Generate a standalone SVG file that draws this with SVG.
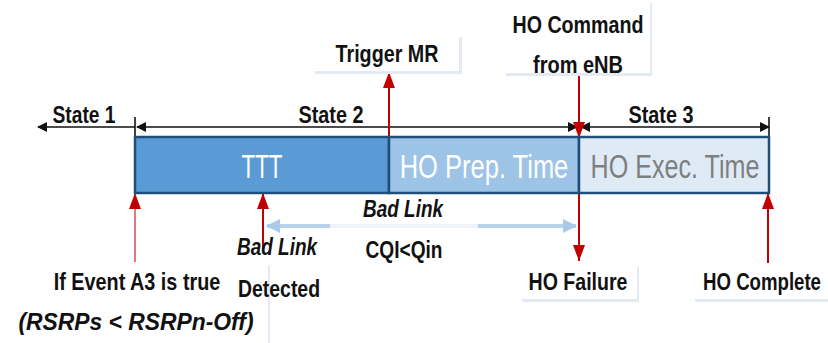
<svg xmlns="http://www.w3.org/2000/svg" width="828" height="343" viewBox="0 0 828 343">
  <defs>
    <marker id="blk" viewBox="0 0 10 10" refX="9" refY="5" markerWidth="10" markerHeight="10" markerUnits="userSpaceOnUse" orient="auto-start-reverse">
      <path d="M0,0 L10,5 L0,10 Z" fill="#111"/>
    </marker>
    <marker id="red" viewBox="0 0 16 12" refX="16" refY="6" markerWidth="16" markerHeight="12" markerUnits="userSpaceOnUse" orient="auto">
      <path d="M0,0 L16,6 L0,12 Z" fill="#c00000"/>
    </marker>
    <marker id="lb" viewBox="0 0 14 14" refX="13" refY="7" markerWidth="14" markerHeight="14" markerUnits="userSpaceOnUse" orient="auto-start-reverse">
      <path d="M0,0 L14,7 L0,14 Z" fill="#a9cbe9"/>
    </marker>
  </defs>
  <style>
    .lbl { font-family: "Liberation Sans", Arial, sans-serif; font-weight: bold; fill: #111; text-anchor: middle; font-size: 24px; }
    .it { font-style: italic; }
    .bar { stroke: #1f4e79; stroke-width: 2.5; }
    .bt { font-family: "Liberation Sans", Arial, sans-serif; text-anchor: middle; font-size: 34px; }
    .box { fill: #ffffff; }
    .shadow { fill: #e3eaf3; }
    .tl { stroke: #111; stroke-width: 1.6; fill: none; }
    .rl { stroke: #c00000; stroke-width: 2; fill: none; }
  </style>

  <!-- state timeline -->
  <g id="states">
    <line class="tl" x1="135" y1="127" x2="38" y2="127" marker-end="url(#blk)"/>
    <line class="tl" x1="135" y1="117" x2="135" y2="137"/>
    <line class="tl" x1="137" y1="127" x2="577" y2="127" marker-start="url(#blk)" marker-end="url(#blk)"/>
    <line class="tl" x1="581" y1="127" x2="769" y2="127" marker-start="url(#blk)" marker-end="url(#blk)"/>
    <line class="tl" x1="769" y1="117" x2="769" y2="137"/>
    <text class="lbl" x="84" y="123" textLength="63" lengthAdjust="spacingAndGlyphs">State 1</text>
    <text class="lbl" x="331" y="123" textLength="65" lengthAdjust="spacingAndGlyphs">State 2</text>
    <text class="lbl" x="661" y="123" textLength="65" lengthAdjust="spacingAndGlyphs">State 3</text>
  </g>

  <!-- connectors -->
  <g id="connectors">
    <line class="rl" x1="389" y1="138" x2="389" y2="72" marker-end="url(#red)"/>
    <line class="rl" x1="579" y1="75" x2="579" y2="138" marker-end="url(#red)"/>
    <line class="rl" x1="579" y1="192" x2="579" y2="261" marker-end="url(#red)"/>
    <line class="rl" x1="768" y1="263" x2="768" y2="193" marker-end="url(#red)"/>
    <line x1="135" y1="262" x2="135" y2="193" stroke="#e07a7a" stroke-width="2" marker-end="url(#red)"/>
    <line class="rl" x1="263" y1="250" x2="263" y2="193" marker-end="url(#red)"/>
    <line x1="267" y1="226" x2="576" y2="226" stroke="#b7d3ec" stroke-width="4" marker-start="url(#lb)" marker-end="url(#lb)"/>
  </g>

  <!-- time bars (condensed labels via horizontal scale) -->
  <g id="ttt">
    <rect class="bar" x="135" y="137" width="254" height="56" fill="#5b9bd5"/>
    <text class="bt" transform="translate(262,178) scale(0.66,1)" fill="#ffffff">TTT</text>
  </g>
  <g id="ho-prep">
    <rect class="bar" x="389" y="137" width="190" height="56" fill="#9dc3e6"/>
    <text class="bt" transform="translate(484,178) scale(0.75,1)" fill="#ffffff">HO Prep. Time</text>
  </g>
  <g id="ho-exec">
    <rect class="bar" x="579" y="137" width="190" height="56" fill="#deebf7"/>
    <text class="bt" transform="translate(675,178) scale(0.74,1)" fill="#7f7f7f">HO Exec. Time</text>
  </g>

  <!-- event labels -->
  <g id="trigger-mr">
    <rect class="shadow" x="315" y="37" width="147" height="37"/>
    <rect class="box" x="313" y="34" width="146" height="37"/>
    <text class="lbl" x="387" y="62" textLength="103" lengthAdjust="spacingAndGlyphs">Trigger MR</text>
  </g>
  <g id="ho-command">
    <rect class="shadow" x="506" y="3" width="146" height="73"/>
    <rect class="box" x="504" y="0" width="146" height="73"/>
    <text class="lbl" x="578" y="33" textLength="131" lengthAdjust="spacingAndGlyphs">HO Command</text>
    <text class="lbl" x="578" y="73" textLength="90" lengthAdjust="spacingAndGlyphs">from eNB</text>
  </g>
  <g id="bad-link-cqi">
    <rect x="330" y="196" width="148" height="68" fill="#ffffff" opacity="0.85"/>
    <line x1="330" y1="226" x2="478" y2="226" stroke="#eef4fa" stroke-width="4"/>
    <text class="lbl it" x="403" y="217" textLength="80" lengthAdjust="spacingAndGlyphs">Bad Link</text>
    <text class="lbl" x="404" y="258" textLength="77" lengthAdjust="spacingAndGlyphs">CQI&lt;Qin</text>
  </g>
  <g id="event-a3">
    <rect class="shadow" x="7" y="265" width="263" height="80"/>
    <rect class="box" x="5" y="262" width="263" height="81"/>
    <text class="lbl" transform="translate(137,290) scale(0.826,1)">If Event A3 is true</text>
    <text class="lbl it" x="136" y="330" font-size="30" textLength="235" lengthAdjust="spacingAndGlyphs">(RSRPs &lt; RSRPn-Off)</text>
  </g>
  <g id="bad-link-detected">
    <text class="lbl it" x="277" y="255" textLength="80" lengthAdjust="spacingAndGlyphs">Bad Link</text>
    <text class="lbl" transform="translate(279,297) scale(0.81,1)">Detected</text>
  </g>
  <g id="ho-failure">
    <rect class="shadow" x="522" y="267" width="117" height="35"/>
    <rect class="box" x="520" y="264" width="117" height="35"/>
    <text class="lbl" x="578" y="290" textLength="99" lengthAdjust="spacingAndGlyphs">HO Failure</text>
  </g>
  <g id="ho-complete">
    <rect class="shadow" x="695" y="267" width="135" height="35"/>
    <rect class="box" x="693" y="264" width="135" height="35"/>
    <text class="lbl" transform="translate(762,290) scale(0.776,1)">HO Complete</text>
  </g>
</svg>
